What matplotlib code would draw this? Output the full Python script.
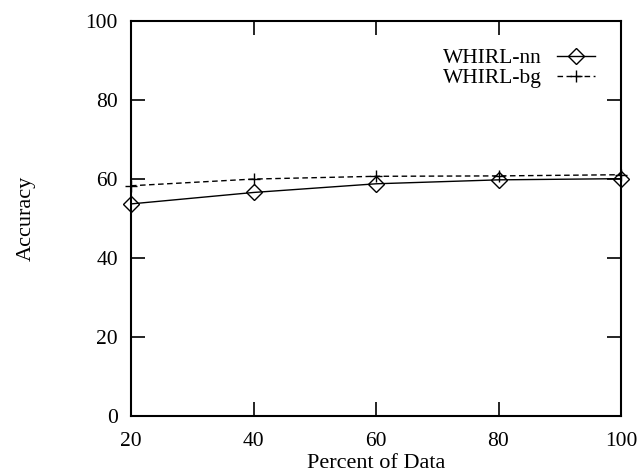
import matplotlib
matplotlib.use("Agg")
import matplotlib.pyplot as plt

plt.rcParams['font.family'] = ['Liberation Serif', 'DejaVu Serif']

percent = [20, 40, 60, 80, 100]
whirl_nn = [53.7, 56.6, 58.8, 59.8, 60.1]
whirl_bg = [58.3, 60.0, 60.7, 60.8, 61.1]
xticks = [20, 40, 60, 80, 100]
yticks = [0, 20, 40, 60, 80, 100]

fig = plt.figure(figsize=(6.41, 4.72), dpi=100)
ax = fig.add_axes([131 / 641, 1 - 415.7 / 472, (621 - 131) / 641, (415.7 - 21.3) / 472])

ax.plot(percent, whirl_nn, color='black', lw=1.0, marker='D', markersize=8,
        markerfacecolor='none', markeredgecolor='black', markeredgewidth=1.0,
        label='WHIRL-nn', clip_on=False, zorder=3)
ax.plot(percent, whirl_bg, color='black', lw=1.0, ls=(0, (4, 2.5)), marker='+',
        markersize=9, markeredgewidth=1.0, label='WHIRL-bg', clip_on=False, zorder=3)

ax.set_xlim(20, 100)
ax.set_ylim(0, 100)
ax.set_xticks(xticks)
ax.set_yticks(yticks)
ax.tick_params(direction='in', length=10, width=1.2, top=True, right=True,
               labelsize=15.5)
ax.tick_params(axis='x', pad=12)
ax.tick_params(axis='y', pad=9.5)
for s in ax.spines.values():
    s.set_linewidth(1.5)

ax.set_xlabel('Percent of Data', fontsize=16)
ax.xaxis.set_label_coords(0.5, -0.097)
ax.set_ylabel('Accuracy', fontsize=16)
ax.yaxis.set_label_coords(-0.194, 0.5)

leg = ax.legend(loc='upper right', frameon=False, markerfirst=False, fontsize=15.5,
                handlelength=1.77, handletextpad=0.7, labelspacing=0.0,
                borderaxespad=0.0, borderpad=0.0, bbox_to_anchor=(0.947, 0.932))

fig.savefig('out.png', dpi=100)
